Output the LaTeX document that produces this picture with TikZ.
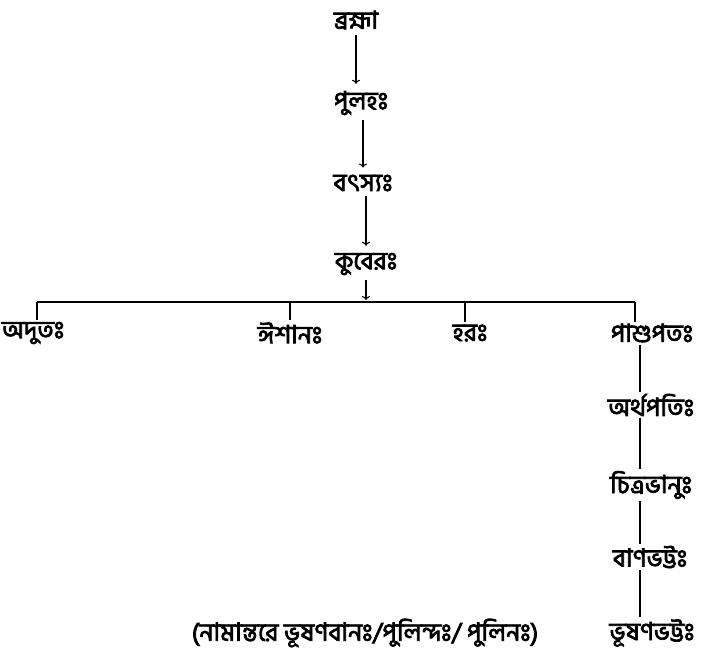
\documentclass[tikz,border=0pt]{standalone}
\usepackage{fontspec}
\newfontfamily\bnfont[Script=Bengali,FakeBold=3]{Hind Siliguri}
\usetikzlibrary{arrows.meta}

\begin{document}
\begin{tikzpicture}[x=1pt, y=-1pt,
    person/.style={font=\bnfont\fontsize{25}{28}\selectfont, inner sep=2pt},
    link/.style={line width=1.1pt},
    descent/.style={link, -{To[length=4pt,width=8pt]}, shorten <=3pt, shorten >=5pt}]

% Page frame
\useasboundingbox (0,0) rectangle (714,666);

% Main line of descent
\node[person] (brahma) at (356,20) {ব্রহ্মা};
\node[person] (pulaha) at (361,103) {পুলহঃ};
\node[person] (vatsya) at (363,183) {বৎস্যঃ};
\node[person] (kubera) at (366,264) {কুবেরঃ};

\draw[descent] (brahma) -- (brahma |- pulaha.north);
\draw[descent] (vatsya |- pulaha.south) -- (vatsya);
\draw[descent] (kubera |- vatsya.south) -- (kubera);

% Sons of Kubera
\node[person] (adbhuta) at (33,333) {অদুতঃ};
\node[person] (ishana) at (290,333) {ঈশানঃ};
\node[person] (hara) at (470,333) {হরঃ};
\node[person] (pashupata) at (652,333) {পাশুপতঃ};

\coordinate (bar) at (366,302);
\coordinate (barL) at (37,302);
\coordinate (barR) at (635,302);
\draw[descent, shorten >=2pt] (kubera) -- (bar);
\draw[link] (barL) -- (barR);
\draw[link] (barL) -- (barL |- adbhuta.north);
\draw[link] (290,302) -- (ishana.north);
\draw[link] (465,302) -- (465,0 |- hara.north);
\draw[link] (barR) -- (barR |- pashupata.north);

% Line of Pashupata
\node[person] (arthapati) at (651,405) {অর্থপতিঃ};
\node[person] (chitrabhanu) at (651,485) {চিত্রভানুঃ};
\node[person] (banabhatta) at (650,557) {বাণভট্টঃ};
\node[person] (bhushana) at (652,633) {ভূষণভট্টঃ};

\coordinate (col) at (640,0);
\draw[link] (col |- pashupata.south) -- (col |- arthapati.north);
\draw[link] (col |- arthapati.south) -- (col |- chitrabhanu.north);
\draw[link] (col |- chitrabhanu.south) -- (col |- banabhatta.north);
\draw[link] (col |- banabhatta.south) -- (col |- bhushana.north);

% Other names
\node[person] (aliases) at (365,633) {(নামান্তরে ভূষণবানঃ/পুলিন্দঃ/ পুলিনঃ)};

\end{tikzpicture}
\end{document}
